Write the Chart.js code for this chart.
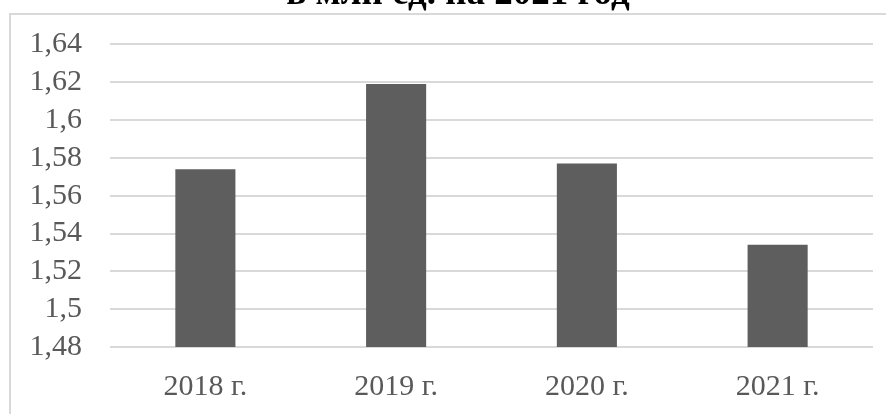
<!DOCTYPE html>
<html>
<head>
<meta charset="utf-8">
<script src="https://cdn.jsdelivr.net/npm/chart.js@4.4.1/dist/chart.umd.min.js"></script>
<style>
  html, body { margin: 0; padding: 0; background: #fff; }
  #wrap { position: relative; width: 886px; height: 414px; overflow: hidden; background: #fff; }
  #frame { position: absolute; left: 9px; top: 13px; width: 1000px; height: 1000px; border: 2px solid #d9d9d9; box-sizing: border-box; }
  #box { position: absolute; left: 0; top: -28px; width: 886px; height: 442px; }
</style>
</head>
<body>
<div id="wrap">
  <div id="frame"></div>
  <div id="box"><canvas id="c"></canvas></div>
</div>
<script>
const categories = ['2018 г.', '2019 г.', '2020 г.', '2021 г.'];
const values = [1.574, 1.619, 1.577, 1.534];
const titleText = 'в млн ед. на 2021 год';
const yMin = 1.48, yMax = 1.64, yStep = 0.02;

const serif = '"Liberation Serif", "Times New Roman", serif';

// shift the title's centring box slightly to the right (original chart is wider than the crop)
const titleShift = {
  id: 'titleShift',
  afterLayout(chart) {
    if (chart.titleBlock) chart.titleBlock.left = 43;
  }
};

new Chart(document.getElementById('c'), {
  type: 'bar',
  data: {
    labels: categories,
    datasets: [{
      data: values,
      backgroundColor: '#5e5e5e',
      borderWidth: 0,
      barPercentage: 0.315,
      categoryPercentage: 1
    }]
  },
  options: {
    responsive: true,
    maintainAspectRatio: false,
    animation: false,
    layout: { padding: { left: 0, right: 13, top: 0, bottom: 0 } },
    plugins: {
      legend: { display: false },
      tooltip: { enabled: false },
      title: {
        display: true,
        text: titleText,
        color: '#000',
        font: { family: serif, size: 37, weight: 'bold' },
        padding: { top: 0, bottom: 28 }
      }
    },
    scales: {
      x: {
        grid: { display: false },
        border: { display: false },
        ticks: { color: '#595959', font: { family: serif, size: 30 }, padding: 14, autoSkip: false, maxRotation: 0 },
        afterFit: (s) => { s.height = 67; }
      },
      y: {
        min: yMin, max: yMax,
        grid: { color: '#d9d9d9', lineWidth: 2, drawTicks: false },
        border: { display: false },
        ticks: {
          stepSize: yStep,
          autoSkip: false,
          color: '#595959',
          font: { family: serif, size: 30 },
          padding: 28,
          callback: (v) => String(parseFloat(v.toFixed(2))).replace('.', ',')
        },
        afterFit: (s) => { s.width = 110; }
      }
    }
  },
  plugins: [titleShift]
});
</script>
</body>
</html>
